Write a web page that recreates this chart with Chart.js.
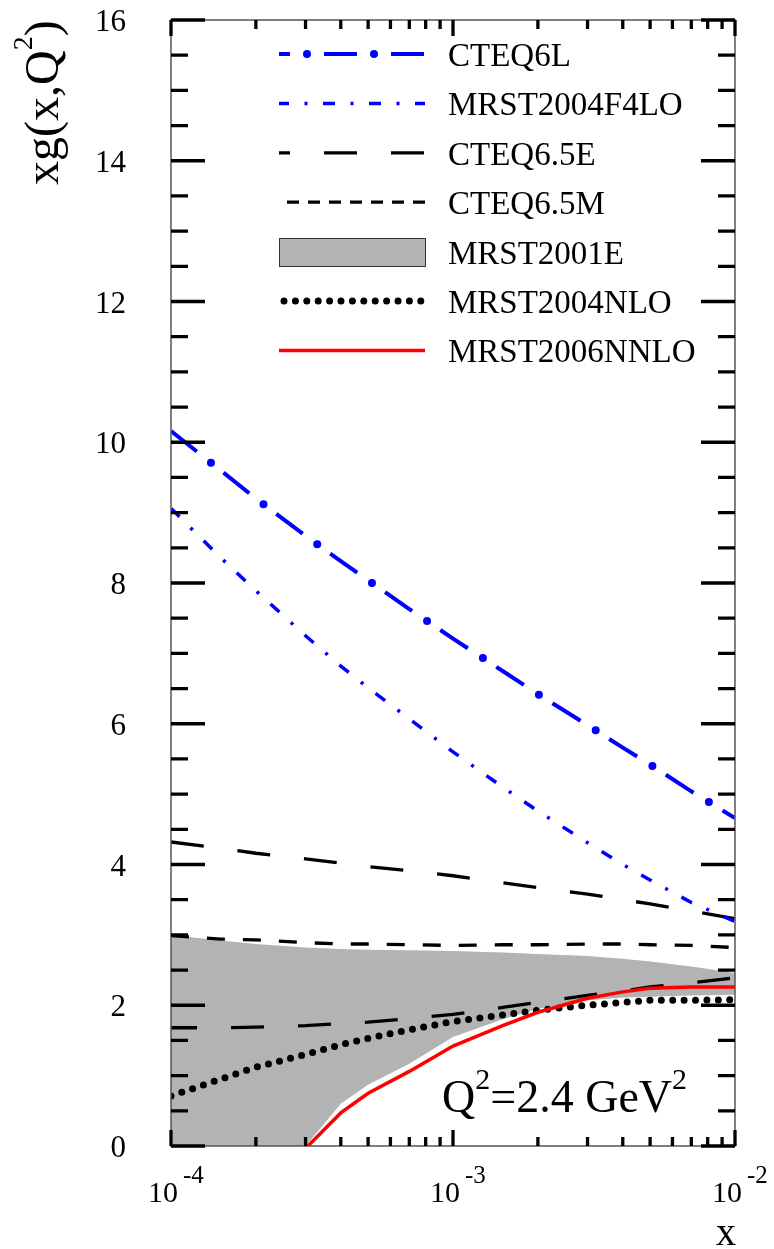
<!DOCTYPE html>
<html>
<head>
<meta charset="utf-8">
<script src="https://cdn.jsdelivr.net/npm/chart.js@4.4.0/dist/chart.umd.min.js"></script>
<style>
  html, body { margin: 0; padding: 0; background: #fff; }
  canvas { display: block; }
</style>
</head>
<body>
<canvas id="gluonChart" width="774" height="1249"></canvas>
<script>
const xGrid = [1e-4, 1.5e-4, 2e-4, 3e-4, 4e-4, 5e-4, 7e-4, 1e-3, 1.5e-3, 2e-3, 3e-3, 4e-3, 5e-3, 7e-3, 1e-2];

const cteq6l     = [10.16, 9.60, 9.20, 8.67, 8.31, 8.04, 7.63, 7.21, 6.75, 6.42, 5.98, 5.66, 5.42, 5.04, 4.66];
const mrst04f4lo = [9.06, 8.36, 7.89, 7.25, 6.82, 6.51, 6.07, 5.60, 5.10, 4.76, 4.31, 4.00, 3.78, 3.46, 3.19];
const cteq65eUp  = [4.32, 4.23, 4.16, 4.08, 4.02, 3.97, 3.91, 3.84, 3.74, 3.67, 3.58, 3.50, 3.44, 3.34, 3.23];
const cteq65eLo  = [1.68, 1.68, 1.69, 1.71, 1.74, 1.76, 1.81, 1.87, 1.97, 2.04, 2.14, 2.20, 2.26, 2.32, 2.39];
const cteq65m    = [2.99, 2.94, 2.93, 2.89, 2.87, 2.87, 2.86, 2.85, 2.86, 2.86, 2.87, 2.87, 2.86, 2.85, 2.82];
const mrst01eUp  = [3.00, 2.92, 2.87, 2.82, 2.80, 2.79, 2.78, 2.77, 2.75, 2.73, 2.70, 2.66, 2.62, 2.55, 2.46];
const mrst01eLo  = [0, 0, 0, 0, 0.60, 0.87, 1.17, 1.55, 1.80, 1.95, 2.07, 2.11, 2.12, 2.14, 2.15];
const mrst04nlo  = [0.71, 0.95, 1.12, 1.30, 1.44, 1.53, 1.65, 1.77, 1.86, 1.93, 2.00, 2.04, 2.07, 2.07, 2.08];

// the NNLO curve only starts where it crosses zero
const nnloX = [3.06e-4, 4e-4, 5e-4, 7e-4, 1e-3, 1.5e-3, 2e-3, 3e-3, 4e-3, 5e-3, 7e-3, 1e-2];
const mrst06nnlo = [0, 0.47, 0.75, 1.06, 1.42, 1.71, 1.90, 2.10, 2.19, 2.24, 2.26, 2.26];

const legendNames = ['CTEQ6L', 'MRST2004F4LO', 'CTEQ6.5E', 'CTEQ6.5M', 'MRST2001E', 'MRST2004NLO', 'MRST2006NNLO'];
const yTickLabels = ['0', '2', '4', '6', '8', '10', '12', '14', '16'];
const xDecades = [1e-4, 1e-3, 1e-2];
const xDecadeExps = ['-4', '-3', '-2'];

const serif = '"Liberation Serif", "DejaVu Serif", serif';
const BLUE = '#0000ff', RED = '#ff0000', GRAY = '#b3b3b3';

function pts(xs, ys) {
  return xs.map((x, i) => ({ x: x, y: ys[i] }));
}

function line(label, xs, ys, color, width, dash, offset, cap) {
  return {
    label: label,
    data: pts(xs, ys),
    borderColor: color,
    borderWidth: width,
    borderDash: dash || [],
    borderDashOffset: offset || 0,
    borderCapStyle: cap || 'butt',
    pointRadius: 0,
    fill: false,
    tension: 0
  };
}

// draws a run of text pieces (for superscripts), left aligned
function drawRuns(ctx, runs, x, y) {
  ctx.textAlign = 'left';
  ctx.textBaseline = 'alphabetic';
  for (const r of runs) {
    ctx.font = r.size + 'px ' + serif;
    ctx.fillText(r.t, x, y + (r.dy || 0));
    x += ctx.measureText(r.t).width;
  }
}

const framePlugin = {
  id: 'frame',
  afterDatasetsDraw(chart) {
    const ctx = chart.ctx;
    const a = chart.chartArea;
    const xs = chart.scales.x, ys = chart.scales.y;
    ctx.save();

    // frame
    ctx.strokeStyle = '#555';
    ctx.lineWidth = 1.5;
    ctx.strokeRect(a.left, a.top, a.right - a.left, a.bottom - a.top);

    // y ticks, both sides, inward
    ctx.strokeStyle = '#000';
    ctx.lineWidth = 3.3;
    ctx.beginPath();
    for (let v = 0; v <= 16; v += 0.5) {
      const py = ys.getPixelForValue(v);
      const len = v % 2 === 0 ? 34 : 17;
      ctx.moveTo(a.left, py); ctx.lineTo(a.left + len, py);
      ctx.moveTo(a.right, py); ctx.lineTo(a.right - len, py);
    }
    // x ticks, top and bottom, inward
    const xt = [];
    xDecades.forEach(d => xt.push({ v: d, len: 16 }));
    [1e-4, 1e-3].forEach(d => { for (let m = 2; m <= 9; m++) xt.push({ v: m * d, len: 9 }); });
    xt.forEach(t => {
      const px = xs.getPixelForValue(t.v);
      ctx.moveTo(px, a.bottom); ctx.lineTo(px, a.bottom - t.len);
      ctx.moveTo(px, a.top); ctx.lineTo(px, a.top + t.len);
    });
    ctx.stroke();

    ctx.fillStyle = '#000';
    // y tick labels
    ctx.font = '31px ' + serif;
    ctx.textAlign = 'right';
    ctx.textBaseline = 'alphabetic';
    yTickLabels.forEach(l => {
      ctx.fillText(l, 126, ys.getPixelForValue(Number(l)) + 11);
    });
    // x tick labels 10^n
    xDecades.forEach((d, i) => {
      const px = xs.getPixelForValue(d);
      ctx.font = '30px ' + serif;
      ctx.textAlign = 'right';
      ctx.fillText('10', px + 7, 1202);
      ctx.font = '25px ' + serif;
      ctx.textAlign = 'left';
      ctx.fillText(xDecadeExps[i], px + 12, 1183);
    });

    // axis titles
    ctx.font = '40px ' + serif;
    ctx.textAlign = 'right';
    ctx.fillText('x', 736, 1245);

    ctx.save();
    ctx.translate(58, 185);
    ctx.rotate(-Math.PI / 2);
    drawRuns(ctx, [
      { t: 'xg(x,Q', size: 48 },
      { t: '2', size: 28, dy: -26 },
      { t: ')', size: 48 }
    ], 0, 0);
    ctx.restore();

    // Q^2 annotation
    drawRuns(ctx, [
      { t: 'Q', size: 46 },
      { t: '2', size: 30, dy: -23 },
      { t: '=2.4 GeV', size: 46 },
      { t: '2', size: 30, dy: -23 }
    ], 442, 1112);

    // legend
    const lx0 = 279, lx1 = 425;
    const rowY = i => 54 + i * 49.4;
    function sample(i, color, width, dash, offset, cap) {
      ctx.beginPath();
      ctx.strokeStyle = color;
      ctx.lineWidth = width;
      ctx.setLineDash(dash);
      ctx.lineDashOffset = offset;
      ctx.lineCap = cap || 'butt';
      ctx.moveTo(lx0, rowY(i));
      ctx.lineTo(lx1, rowY(i));
      ctx.stroke();
    }
    sample(0, BLUE, 4, [33, 34], 22);
    sample(0, BLUE, 8, [0, 67], 39, 'round');
    sample(1, BLUE, 3.5, [12, 15.5, 3, 15.5], 2);
    sample(2, '#000', 3.3, [33, 34], 22);
    sample(3, '#000', 3.3, [12, 9], 13);
    sample(5, '#000', 7, [0, 11.4], 6.4, 'round');
    sample(6, RED, 3.5, [], 0);
    ctx.setLineDash([]);
    ctx.lineCap = 'butt';
    ctx.fillStyle = GRAY;
    ctx.fillRect(lx0, 238, lx1 - lx0, 28);
    ctx.strokeStyle = '#333';
    ctx.lineWidth = 1;
    ctx.strokeRect(lx0 + 0.5, 238.5, lx1 - lx0, 28);

    ctx.fillStyle = '#000';
    ctx.font = '33px ' + serif;
    ctx.textAlign = 'left';
    legendNames.forEach((n, i) => ctx.fillText(n, 448, rowY(i) + 12));

    ctx.restore();
  }
};

new Chart(document.getElementById('gluonChart'), {
  type: 'line',
  data: {
    datasets: [
      line('CTEQ6L', xGrid, cteq6l, BLUE, 8, [0, 67], 16, 'round'),
      line('CTEQ6L', xGrid, cteq6l, BLUE, 4, [33, 34], 0),
      line('MRST2004F4LO', xGrid, mrst04f4lo, BLUE, 3.5, [12, 15.5, 3, 15.5], 0),
      line('MRST2006NNLO', nnloX, mrst06nnlo, RED, 3.5),
      line('MRST2004NLO', xGrid, mrst04nlo, '#000', 7, [0, 11.4], 0, 'round'),
      line('CTEQ6.5E', xGrid, cteq65eUp, '#000', 3.3, [33, 34], 0),
      line('CTEQ6.5E', xGrid, cteq65eLo, '#000', 3.3, [33, 34], 7),
      line('CTEQ6.5M', xGrid, cteq65m, '#000', 3.3, [18, 18], 0),
      {
        label: 'MRST2001E',
        data: pts(xGrid, mrst01eUp),
        borderColor: 'rgba(0,0,0,0)',
        borderWidth: 1,
        backgroundColor: GRAY,
        pointRadius: 0,
        fill: '+1',
        tension: 0
      },
      {
        label: 'MRST2001E',
        data: pts(xGrid, mrst01eLo),
        borderColor: 'rgba(0,0,0,0)',
        borderWidth: 1,
        pointRadius: 0,
        fill: false,
        tension: 0
      }
    ]
  },
  options: {
    responsive: false,
    animation: false,
    devicePixelRatio: 1,
    layout: { padding: { left: 171, right: 39, top: 20, bottom: 103 } },
    scales: {
      x: { type: 'logarithmic', min: 1e-4, max: 1e-2, display: false },
      y: { type: 'linear', min: 0, max: 16, display: false }
    },
    plugins: {
      legend: { display: false },
      tooltip: { enabled: false },
      filler: { drawTime: 'beforeDatasetsDraw' }
    }
  },
  plugins: [framePlugin]
});
</script>
</body>
</html>
